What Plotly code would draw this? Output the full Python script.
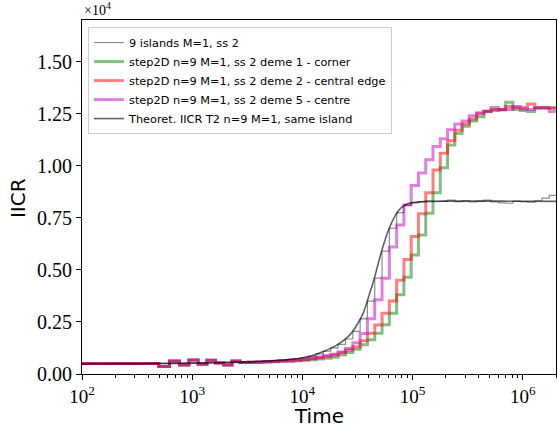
import plotly.graph_objects as go

# Time discretisation (interval edges of the step IICR curves)
time_edges = [93, 152, 219, 298, 390, 497, 622, 767, 935, 1131, 1360, 1625, 1934, 2294,
              2713, 3200, 3767, 4427, 5195, 6088, 7128, 8339, 9747, 11386, 13293, 15513,
              18095, 21102, 24600, 28671, 33407, 38920, 45337, 52803, 61490, 71603, 83368,
              97062, 113002, 131540, 153122, 178236, 207462, 241474, 281053, 327114,
              380716, 443093, 515683, 600160, 698473, 812880, 946018, 1100950, 1281250,
              1491080, 1735260, 2019400]

# IICR values per interval, in units of 1e4
islands = [0.048, 0.049, 0.049, 0.050, 0.050, 0.051, 0.051, 0.052, 0.052, 0.053, 0.054, 0.055,
           0.056, 0.057, 0.058, 0.059, 0.061, 0.063, 0.065, 0.067, 0.070, 0.073, 0.077, 0.085,
           0.097, 0.110, 0.125, 0.142, 0.168, 0.205, 0.265, 0.350, 0.460, 0.590, 0.700, 0.775,
           0.810, 0.822, 0.828, 0.832, 0.829, 0.830, 0.835, 0.828, 0.832, 0.826, 0.830, 0.835,
           0.826, 0.822, 0.820, 0.830, 0.828, 0.825, 0.832, 0.845, 0.858]

corner = [0.050, 0.050, 0.050, 0.051, 0.051, 0.036, 0.062, 0.043, 0.067, 0.047, 0.066, 0.053,
          0.043, 0.062, 0.055, 0.056, 0.057, 0.058, 0.059, 0.061,
          0.062, 0.064, 0.066, 0.069, 0.072, 0.076, 0.080, 0.091, 0.103, 0.119, 0.140, 0.164,
          0.196, 0.236, 0.292, 0.380, 0.465, 0.572, 0.668, 0.772, 0.870, 0.990, 1.100, 1.155,
          1.190, 1.215, 1.235, 1.260, 1.265, 1.270, 1.305, 1.270, 1.265, 1.260, 1.277, 1.277,
          1.277]

central_edge = [0.050, 0.050, 0.050, 0.051, 0.051, 0.036, 0.062, 0.043, 0.067, 0.047, 0.066,
                0.053, 0.043, 0.062, 0.055, 0.056, 0.057, 0.059, 0.060, 0.062,
                0.063, 0.066, 0.069, 0.073, 0.078, 0.084, 0.091, 0.102, 0.115, 0.131, 0.160,
                0.196, 0.235, 0.292, 0.350, 0.450, 0.550, 0.660, 0.770, 0.870, 0.980, 1.060,
                1.120, 1.170, 1.200, 1.225, 1.250, 1.262, 1.270, 1.270, 1.285, 1.280, 1.280,
                1.297, 1.280, 1.280, 1.277]

centre = [0.050, 0.050, 0.050, 0.051, 0.051, 0.036, 0.062, 0.043, 0.067, 0.047, 0.066, 0.053,
          0.043, 0.062, 0.055, 0.056, 0.057, 0.059, 0.060, 0.062,
          0.064, 0.067, 0.071, 0.076, 0.082, 0.089, 0.095, 0.106, 0.122, 0.150, 0.195, 0.265,
          0.356, 0.460, 0.610, 0.716, 0.812, 0.905, 0.965, 1.029, 1.093, 1.130, 1.173, 1.200,
          1.215, 1.240, 1.255, 1.262, 1.280, 1.268, 1.270, 1.285, 1.272, 1.270, 1.277, 1.277,
          1.260]

theory_t = [100, 316, 1000, 3162, 6310, 10000, 12589, 15849, 19953, 25119, 28184, 31623,
            35481, 39811, 44668, 50119, 56234, 63096, 70795, 79433, 89125, 100000, 125893,
            199526, 630957, 2041738]
theory_v = [0.048, 0.049, 0.052, 0.058, 0.066, 0.078, 0.090, 0.110, 0.135, 0.172, 0.200,
            0.240, 0.290, 0.370, 0.455, 0.555, 0.645, 0.715, 0.768, 0.800, 0.816, 0.823,
            0.828, 0.830, 0.830, 0.829]

y_ticks = [0.0, 0.25, 0.5, 0.75, 1.0, 1.25, 1.5]
y_ticktext = ["0.00", "0.25", "0.50", "0.75", "1.00", "1.25", "1.50"]
x_ticks = [1e2, 1e3, 1e4, 1e5, 1e6]
x_ticktext = ["10<sup>2</sup>", "10<sup>3</sup>", "10<sup>4</sup>", "10<sup>5</sup>", "10<sup>6</sup>"]

SCALE = 1e4


def step_y(vals):
    return [v * SCALE for v in vals] + [vals[-1] * SCALE]


fig = go.Figure()
series = [
    ("9 islands M=1, ss 2", islands, "rgba(0,0,0,0.45)", 1.2),
    ("step2D n=9 M=1, ss 2 deme 1 - corner", corner, "rgba(0,128,0,0.5)", 3),
    ("step2D n=9 M=1, ss 2 deme 2 - central edge", central_edge, "rgba(255,0,0,0.5)", 3),
    ("step2D n=9 M=1, ss 2 deme 5 - centre", centre, "rgba(191,0,191,0.5)", 3),
]
for name, vals, col, w in series:
    fig.add_trace(go.Scatter(x=time_edges, y=step_y(vals), mode="lines", name=name,
                             line=dict(color=col, width=w, shape="hv")))

fig.add_trace(go.Scatter(x=theory_t, y=[v * SCALE for v in theory_v], mode="lines",
                         name="Theoret. IICR T2 n=9 M=1, same island",
                         line=dict(color="rgba(0,0,0,0.62)", width=1.6, shape="spline")))

minor_vals = [m * 10 ** e for e in range(2, 7) for m in range(2, 10) if m * 10 ** e <= 2e6]

y_tick_font = dict(family="Liberation Serif, serif", size=20, color="black")
x_tick_font = dict(family="Liberation Serif, serif", size=19, color="black")

fig.update_layout(
    width=558, height=432,
    margin=dict(l=82, r=2, t=20, b=58),
    plot_bgcolor="white", paper_bgcolor="white",
    showlegend=True,
    legend=dict(x=0.0127, y=0.98, xanchor="left", yanchor="top",
                bgcolor="rgba(255,255,255,0.85)", bordercolor="#cccccc", borderwidth=1,
                font=dict(family="DejaVu Sans, sans-serif", size=11.3, color="black")),
    xaxis=dict(type="log", range=[2, 6.301], showgrid=False, zeroline=False,
               showline=True, linecolor="black", linewidth=1.2, mirror=True,
               ticks="outside", ticklen=5, tickwidth=1, tickcolor="black",
               tickvals=x_ticks, ticktext=x_ticktext, tickfont=x_tick_font,
               minor=dict(ticks="outside", ticklen=3, tickwidth=0.8, tickcolor="black",
                          tickvals=minor_vals, showgrid=False)),
    yaxis=dict(range=[0, 1.70 * SCALE], showgrid=False, zeroline=False,
               showline=True, linecolor="black", linewidth=1.2, mirror=True,
               ticks="outside", ticklen=5, tickwidth=1, tickcolor="black",
               tickvals=[v * SCALE for v in y_ticks], ticktext=y_ticktext, tickfont=y_tick_font),
    annotations=[
        dict(text="×10<sup>4</sup>", xref="paper", yref="paper", x=0, y=1, xanchor="left",
             yanchor="bottom", yshift=0, showarrow=False,
             font=dict(family="Liberation Serif, serif", size=14, color="black")),
        dict(text="Time", xref="paper", yref="paper", x=0.5, y=-0.12, xanchor="center",
             yanchor="middle", showarrow=False,
             font=dict(family="DejaVu Sans, sans-serif", size=20, color="black")),
        dict(text="IICR", xref="paper", yref="paper", x=-0.135, y=0.497, xanchor="center",
             yanchor="middle", textangle=-90, showarrow=False,
             font=dict(family="DejaVu Sans, sans-serif", size=20, color="black")),
    ],
)

fig.write_html("out.html", config={"displayModeBar": False},
               post_script="document.body.style.margin='0';document.body.style.padding='0';")
